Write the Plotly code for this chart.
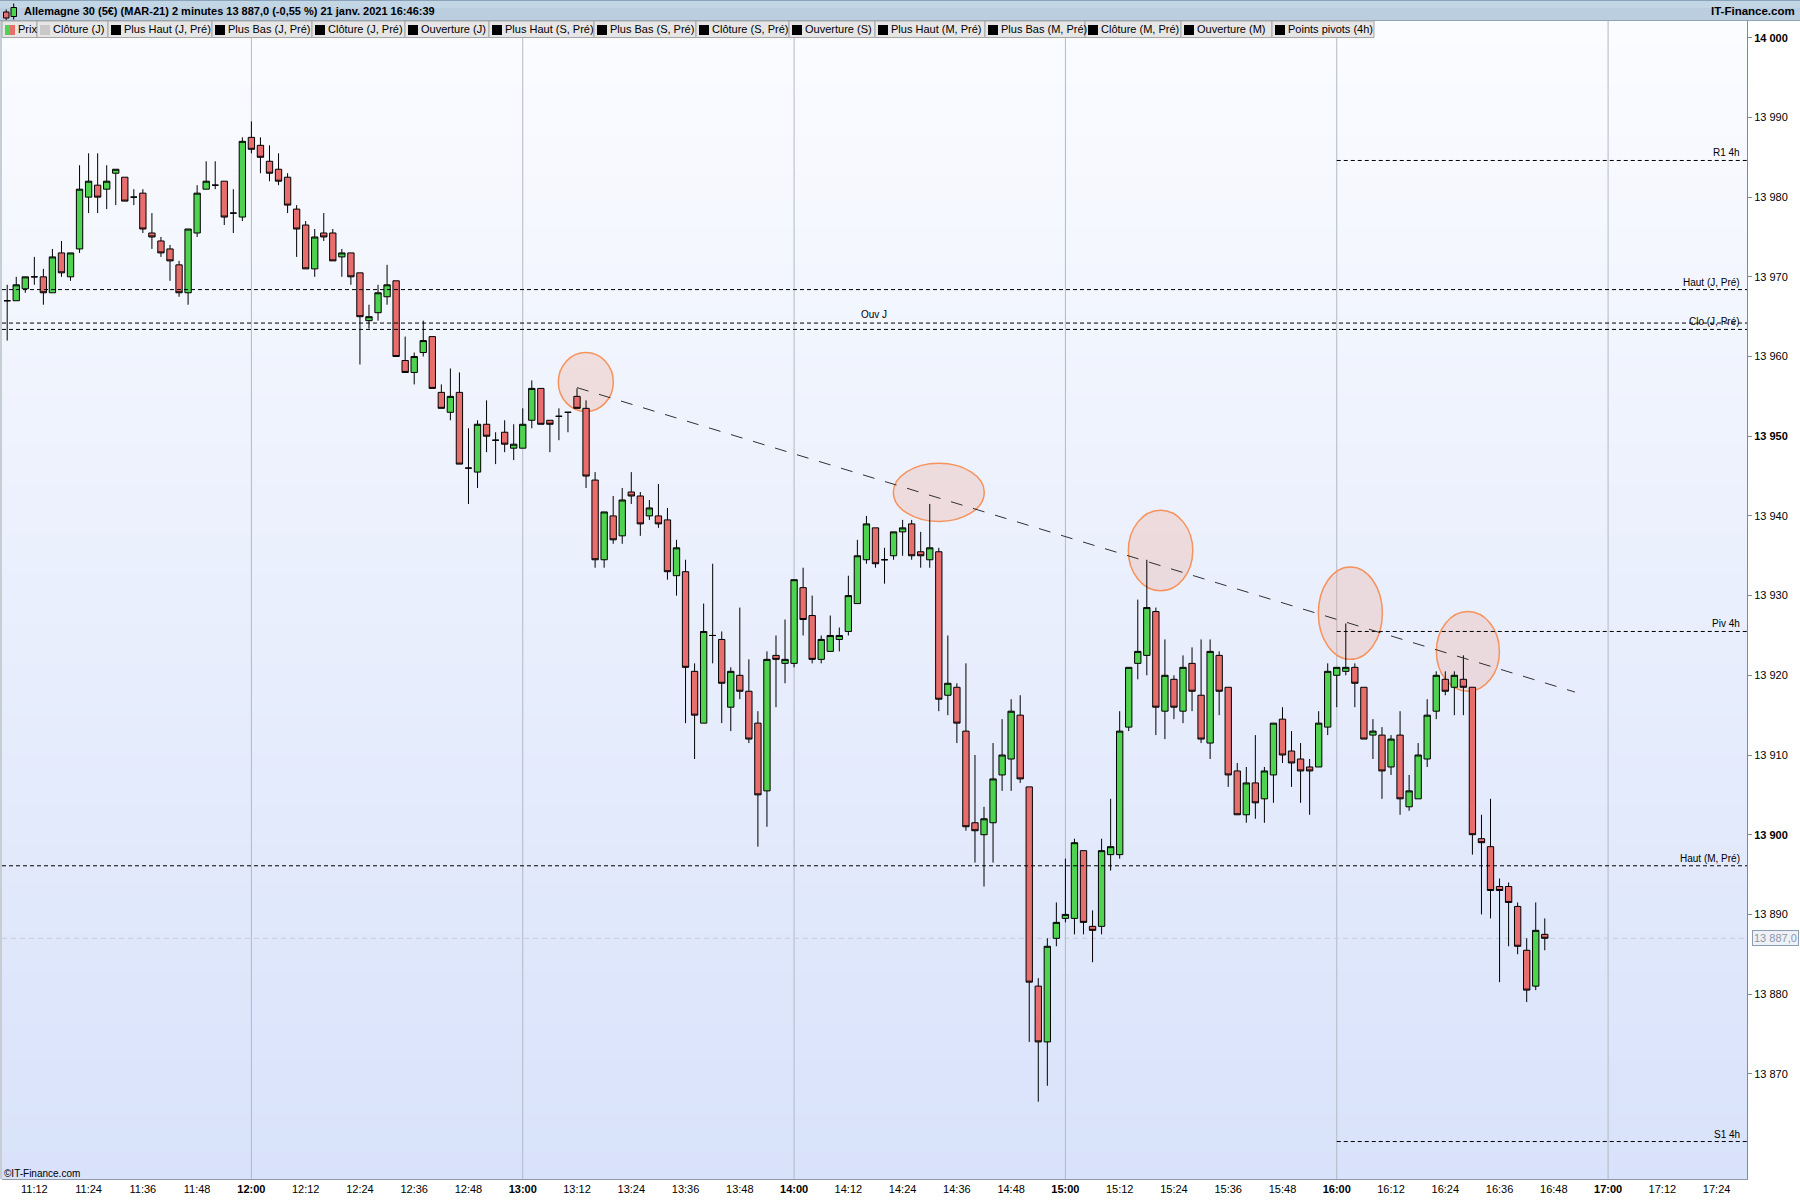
import plotly.graph_objects as go
import pandas as pd

# ---------------- data ----------------
DAY = "2021-01-21"
START = DAY + " 11:06"

opens = [13967, 13967, 13968.5, 13970, 13970, 13968, 13973, 13970, 13973.5, 13980,
         13981.5, 13981, 13983, 13982.5, 13980, 13980.5, 13975.5, 13974.5, 13973.5, 13971.5,
         13968, 13975.5, 13981, 13981.5, 13982, 13978, 13977.5, 13987.5, 13986.5, 13984.5,
         13983.5, 13982.5, 13978.5, 13976.5, 13971, 13975.5, 13975.5, 13972.5, 13973, 13970.5,
         13964.5, 13965.5, 13967.5, 13969.5, 13959.5, 13958, 13960.5, 13962.5, 13955.5, 13953,
         13955.5, 13946, 13945.5, 13951.5, 13949.5, 13950.5, 13948.5, 13948.5, 13952, 13956,
         13952, 13952.5, 13953, 13955, 13953.5, 13944.5, 13934.5, 13940, 13937.5, 13943,
         13942.5, 13940, 13940, 13939.5, 13932.5, 13933, 13920.5, 13914, 13925, 13924.5,
         13916, 13920, 13918, 13914, 13905.5, 13922.5, 13921.5, 13921.5, 13931, 13927.5,
         13922, 13923, 13924.5, 13925.5, 13929, 13934.5, 13938.5, 13934.5, 13935, 13938,
         13939, 13935.5, 13934.5, 13935.5, 13917.5, 13918.5, 13913, 13901.5, 13900, 13901.5,
         13907.5, 13909.5, 13915, 13906, 13881, 13874, 13887, 13889.5, 13889.5, 13898,
         13888.5, 13888.5, 13897.5, 13897.5, 13913.5, 13921.5, 13922.5, 13928, 13915.5, 13919.5,
         13915.5, 13921.5, 13917.5, 13911.5, 13922.5, 13918.5, 13908, 13902.5, 13906.5, 13904.5,
         13907.5, 13914.5, 13910.5, 13909.5, 13908.5, 13908.5, 13913.5, 13920, 13920.5, 13921,
         13918.5, 13912.5, 13912.5, 13908.5, 13912.5, 13903.5, 13904.5, 13909.5, 13915.5, 13919.5,
         13918.5, 13919.5, 13918.5, 13899.5, 13898.5, 13893.5, 13893.5, 13891, 13885.5, 13881,
         13887.5]
highs = [13969, 13970, 13970, 13972.5, 13971, 13973.5, 13974.5, 13973, 13984, 13985.5,
         13985.5, 13984, 13983.5, 13982.5, 13981, 13981, 13978, 13975, 13974, 13972,
         13976, 13981.5, 13984.5, 13984.5, 13982, 13981, 13987.5, 13989.5, 13987.5, 13986.5,
         13985.5, 13983, 13979, 13977, 13976, 13978, 13976, 13973.5, 13973, 13970.5,
         13966.5, 13969, 13971.5, 13969.5, 13962.5, 13960.5, 13964.5, 13962.5, 13956.5, 13958.5,
         13958, 13951, 13952, 13954.5, 13950.5, 13952, 13951.5, 13953.5, 13957, 13956,
         13952, 13953.5, 13953, 13956, 13954.5, 13945.5, 13940.5, 13942.5, 13943.5, 13945.5,
         13943, 13942, 13944, 13941, 13937, 13934.5, 13921.5, 13929, 13934, 13925.5,
         13921, 13928.5, 13922, 13915.5, 13923, 13925, 13927, 13932, 13933.5, 13930,
         13925, 13927.5, 13926, 13932.5, 13937, 13940, 13938.5, 13936, 13938, 13939.5,
         13939.5, 13938, 13941.5, 13936, 13925, 13919, 13921.5, 13910, 13903.5, 13911.5,
         13914.5, 13917, 13917.5, 13906, 13882, 13887, 13891.5, 13897, 13899.5, 13898,
         13890.5, 13899.5, 13904.5, 13915.5, 13921, 13929.5, 13934.5, 13928.5, 13924.5, 13920,
         13922.5, 13923.5, 13924.5, 13924.5, 13923, 13918.5, 13909, 13908.5, 13912.5, 13908.5,
         13914, 13916, 13913, 13911.5, 13909.5, 13915.5, 13921.5, 13921, 13926.5, 13921.5,
         13918.5, 13914.5, 13913.5, 13912.5, 13915.5, 13907.5, 13911.5, 13917, 13920.5, 13920.5,
         13920.5, 13922.5, 13918.5, 13902.5, 13904.5, 13894.5, 13894, 13891.5, 13887, 13891.5,
         13889.5]
lows = [13962, 13967, 13968, 13969, 13966.5, 13968, 13970, 13969.5, 13973, 13978,
        13978, 13978.5, 13979, 13979.5, 13979, 13975.5, 13973.5, 13972.5, 13969.5, 13967.5,
        13966.5, 13975, 13981, 13981, 13976.5, 13975.5, 13977, 13985.5, 13983, 13982,
        13981.5, 13978, 13972.5, 13971, 13970, 13974.5, 13972, 13970, 13969, 13959,
        13963.5, 13964.5, 13966.5, 13960, 13958, 13956.5, 13960, 13956, 13953.5, 13952,
        13946.5, 13941.5, 13943.5, 13948, 13946.5, 13948, 13947, 13948.5, 13951, 13951.5,
        13948, 13949.5, 13950.5, 13953.5, 13943.5, 13933.5, 13933.5, 13936.5, 13936.5, 13941.5,
        13937.5, 13939.5, 13938.5, 13932, 13930, 13914, 13909.5, 13914, 13921.5, 13914,
        13913, 13917, 13911.5, 13898.5, 13901, 13916, 13919, 13921, 13925, 13921.5,
        13921.5, 13923, 13923, 13925, 13929, 13934, 13933.5, 13931.5, 13934.5, 13935,
        13934.5, 13933.5, 13933.5, 13915.5, 13915, 13911.5, 13900.5, 13896.5, 13893.5, 13896.5,
        13905.5, 13905.5, 13906.5, 13874, 13866.5, 13868.5, 13886, 13889, 13887.5, 13887.5,
        13884, 13887.5, 13895.5, 13897, 13913, 13919.5, 13920, 13912.5, 13912, 13914.5,
        13914, 13915.5, 13911.5, 13909.5, 13915, 13906, 13902.5, 13901.5, 13902, 13901.5,
        13904, 13909, 13906, 13904, 13902.5, 13908.5, 13912.5, 13916, 13920, 13916,
        13912, 13909.5, 13904.5, 13907.5, 13902.5, 13903, 13904.5, 13908.5, 13914.5, 13917.5,
        13915, 13915, 13897.5, 13890, 13889.5, 13881.5, 13886, 13885, 13879, 13880.5,
        13885.5]
closes = [13967, 13969, 13970, 13970, 13968, 13972.5, 13970.5, 13973, 13981, 13982,
          13980, 13982, 13983.5, 13979.5, 13980, 13976, 13975, 13973, 13972, 13968,
          13976, 13980.5, 13982, 13981.5, 13977.5, 13978, 13987, 13986, 13985, 13983,
          13982, 13979, 13976, 13971, 13975, 13975, 13972, 13973, 13970, 13965,
          13965, 13968, 13969, 13960, 13958, 13960, 13962, 13956, 13953.5, 13955,
          13946.5, 13946, 13951.5, 13950, 13949.5, 13949, 13949, 13951.5, 13956, 13951.5,
          13951.5, 13952.5, 13953, 13953.5, 13945, 13934.5, 13940.5, 13937, 13942, 13942.5,
          13939, 13941, 13939, 13933, 13936, 13921, 13915, 13925.5, 13925, 13919,
          13920.5, 13918, 13912, 13905, 13922, 13922, 13922, 13932, 13927, 13922,
          13924.5, 13925, 13925, 13930, 13935, 13939, 13934, 13934.5, 13938, 13938.5,
          13935, 13935, 13936, 13917, 13919, 13914, 13901, 13900.5, 13902, 13907,
          13910, 13915.5, 13907, 13881.5, 13874, 13886, 13889, 13890, 13899, 13889,
          13888, 13898, 13898.5, 13913, 13921, 13923, 13928.5, 13916, 13920, 13916,
          13921, 13918, 13912, 13923, 13918, 13907.5, 13902.5, 13906.5, 13904, 13908,
          13914, 13910, 13909, 13908, 13908, 13914, 13920.5, 13921, 13921, 13919,
          13912, 13913, 13908, 13912, 13904.5, 13905.5, 13910, 13915, 13920, 13918,
          13920, 13918.5, 13900, 13899, 13893, 13893, 13891.5, 13886, 13880.5, 13888,
          13887]

times = pd.date_range(START, periods=len(closes), freq="2min")

# reference levels (name, value, starts at)
level_names = ["R1 4h", "Haut (J, Pré)", "Ouv J", "Clo (J, Pré)", "Piv 4h", "Haut (M, Pré)", "S1 4h"]
level_values = [13984.6, 13968.4, 13964.2, 13963.4, 13925.5, 13896.1, 13861.5]
level_from = [DAY + " 16:00", None, None, None, DAY + " 16:00", None, DAY + " 16:00"]
last_price = 13887.0

# hand-drawn trend line and highlight ellipses (time, price)
trend_start = (DAY + " 13:12:00", 13956.1)
trend_end = (DAY + " 16:52:40", 13917.9)
ellipses = [
    (DAY + " 13:07:52", DAY + " 13:20:02", 13953.1, 13960.5),
    (DAY + " 14:21:57", DAY + " 14:42:04", 13939.3, 13946.6),
    (DAY + " 15:13:55", DAY + " 15:28:10", 13930.6, 13940.7),
    (DAY + " 15:55:56", DAY + " 16:10:05", 13922.0, 13933.6),
    (DAY + " 16:22:02", DAY + " 16:35:58", 13918.0, 13928.0),
]

tick_times = pd.date_range(DAY + " 11:12", DAY + " 17:24", freq="12min")
tick_text = [("<b>%s</b>" if t.minute == 0 else "%s") % t.strftime("%H:%M") for t in tick_times]
hour_lines = pd.date_range(DAY + " 12:00", DAY + " 17:00", freq="60min")

y_ticks = list(range(13870, 14001, 10))
def fmt(v):
    s = f"{v:,}".replace(",", " ")
    return "<b>%s</b>" % s if v % 50 == 0 else s
y_text = [fmt(v) for v in y_ticks]

legend_items = ["Prix", "Clôture (J)", "Plus Haut (J, Pré)", "Plus Bas (J, Pré)", "Clôture (J, Pré)",
                "Ouverture (J)", "Plus Haut (S, Pré)", "Plus Bas (S, Pré)", "Clôture (S, Pré)",
                "Ouverture (S)", "Plus Haut (M, Pré)", "Plus Bas (M, Pré)", "Clôture (M, Pré)",
                "Ouverture (M)", "Points pivots (4h)"]

title_text = "Allemagne 30 (5€) (MAR-21) 2 minutes 13 887,0 (-0,55 %) 21 janv. 2021 16:46:39"

# ---------------- geometry ----------------
W, H = 1800, 1200
ML, MR, MT, MB = 2, 53, 21, 21
PW, PH = W - ML - MR, H - MT - MB
def px(x):
    return (x - ML) / PW
def py(y):
    return (H - MB - y) / PH

FONT = "Liberation Sans, Arial, sans-serif"

fig = go.Figure()
fig.add_trace(go.Candlestick(
    x=times, open=opens, high=highs, low=lows, close=closes,
    increasing=dict(fillcolor="#4fd24f", line=dict(color="#000000", width=1)),
    decreasing=dict(fillcolor="#e86e6e", line=dict(color="#000000", width=1)),
    whiskerwidth=0, showlegend=False, hoverinfo="skip",
))

shapes = []
# background gradient
N = 90
top_c = (251, 252, 255)
bot_c = (216, 226, 250)
for i in range(N):
    f = (i + 0.5) / N
    c = tuple(round(top_c[k] + (bot_c[k] - top_c[k]) * f) for k in range(3))
    shapes.append(dict(type="rect", xref="paper", yref="paper", x0=0, x1=1,
                       y0=1 - (i + 1) / N, y1=1 - i / N + 0.001, layer="below",
                       fillcolor="rgb(%d,%d,%d)" % c, line=dict(width=0)))
# hour grid lines
for t in hour_lines:
    shapes.append(dict(type="line", xref="x", yref="paper", x0=t, x1=t, y0=0, y1=1,
                       layer="below", line=dict(color="#b2b9c3", width=1)))
# ellipses
for (t0, t1, p0, p1) in ellipses:
    shapes.append(dict(type="circle", xref="x", yref="y", x0=t0, x1=t1, y0=p0, y1=p1,
                       layer="below", fillcolor="rgba(240,170,150,0.30)",
                       line=dict(color="#f6935c", width=1.5)))
# last price line
shapes.append(dict(type="line", xref="paper", yref="y", x0=0, x1=1, y0=last_price, y1=last_price,
                   layer="below", line=dict(color="#c9ccd2", width=1, dash="5px,4px")))
# level lines
for name, v, start in zip(level_names, level_values, level_from):
    if start is None:
        shapes.append(dict(type="line", xref="paper", yref="y", x0=0, x1=1, y0=v, y1=v,
                           line=dict(color="#000000", width=1, dash="4px,3px")))
    else:
        shapes.append(dict(type="line", xref="x", yref="y", x0=start, x1=DAY + " 18:00", y0=v, y1=v,
                           line=dict(color="#000000", width=1, dash="4px,3px")))
# trend line
shapes.append(dict(type="line", xref="x", yref="y", x0=trend_start[0], y0=trend_start[1],
                   x1=trend_end[0], y1=trend_end[1],
                   line=dict(color="#303030", width=1, dash="12px,11px")))
# left border
shapes.append(dict(type="line", xref="paper", yref="paper", x0=px(1), x1=px(1), y0=0, y1=py(21),
                   line=dict(color="#8e9ba8", width=1)))
# title bar
shapes.append(dict(type="rect", xref="paper", yref="paper", x0=px(0), x1=px(W), y0=py(21), y1=py(0),
                   fillcolor="#bacee0", line=dict(width=0)))
shapes.append(dict(type="rect", xref="paper", yref="paper", x0=px(0), x1=px(W), y0=py(8), y1=py(0),
                   fillcolor="#c3d6e6", line=dict(width=0)))
shapes.append(dict(type="line", xref="paper", yref="paper", x0=px(0), x1=px(W), y0=py(0.5), y1=py(0.5),
                   line=dict(color="#8aa3b8", width=1)))
shapes.append(dict(type="line", xref="paper", yref="paper", x0=px(0), x1=px(W), y0=py(20.5), y1=py(20.5),
                   line=dict(color="#8fa3b3", width=1)))
# title icon
shapes.append(dict(type="line", xref="paper", yref="paper", x0=px(6.2), x1=px(6.2), y0=py(20), y1=py(9.5),
                   line=dict(color="#000", width=1)))
shapes.append(dict(type="rect", xref="paper", yref="paper", x0=px(3.5), x1=px(9), y0=py(18), y1=py(12),
                   fillcolor="#e86e6e", line=dict(color="#000", width=1)))
shapes.append(dict(type="line", xref="paper", yref="paper", x0=px(13.7), x1=px(13.7), y0=py(19.5), y1=py(3.5),
                   line=dict(color="#000", width=1)))
shapes.append(dict(type="rect", xref="paper", yref="paper", x0=px(11), x1=px(16.5), y0=py(16.5), y1=py(7.5),
                   fillcolor="#4fd24f", line=dict(color="#000", width=1)))
# legend bar cells
cell_edges = [2, 37, 108, 212, 312, 405, 489, 594, 696, 789, 875, 985, 1085, 1181, 1272, 1374]
annotations = []
for i, name in enumerate(legend_items):
    a, b = cell_edges[i], cell_edges[i + 1]
    shapes.append(dict(type="rect", xref="paper", yref="paper", x0=px(a), x1=px(b), y0=py(37.5), y1=py(21),
                       fillcolor="#e6e6e6", line=dict(color="#a6a6a6", width=1)))
    sx = a + 3
    if i == 0:
        shapes.append(dict(type="rect", xref="paper", yref="paper", x0=px(sx), x1=px(sx + 5), y0=py(35), y1=py(25),
                           fillcolor="#4fd24f", line=dict(width=0)))
        shapes.append(dict(type="rect", xref="paper", yref="paper", x0=px(sx + 5), x1=px(sx + 10), y0=py(35), y1=py(25),
                           fillcolor="#e86e6e", line=dict(width=0)))
    else:
        col = "#c8c8c8" if i == 1 else "#000000"
        shapes.append(dict(type="rect", xref="paper", yref="paper", x0=px(sx), x1=px(sx + 10), y0=py(35), y1=py(25),
                           fillcolor=col, line=dict(width=0)))
    annotations.append(dict(xref="paper", yref="paper", x=px(a + 14), y=py(29.5), xanchor="left", yanchor="middle",
                            text=name, showarrow=False, font=dict(family=FONT, size=11, color="#000")))

# title text
annotations.append(dict(xref="paper", yref="paper", x=px(22), y=py(11), xanchor="left", yanchor="middle",
                        text="<b>%s</b>" % title_text, showarrow=False,
                        font=dict(family=FONT, size=11, color="#000")))
annotations.append(dict(xref="paper", yref="paper", x=px(1797), y=py(11), xanchor="right", yanchor="middle",
                        text="<b>IT-Finance.com</b>", showarrow=False,
                        font=dict(family=FONT, size=11.5, color="#000")))
# level labels
for name, v, start in zip(level_names, level_values, level_from):
    if name == "Ouv J":
        annotations.append(dict(xref="x", yref="y", x=DAY + " 14:17:36", y=v, xanchor="center", yanchor="bottom",
                                yshift=1, text=name, showarrow=False,
                                font=dict(family=FONT, size=10, color="#000")))
    else:
        annotations.append(dict(xref="paper", yref="y", x=px(1742), y=v, xanchor="right", yanchor="bottom",
                                yshift=0, text=name, showarrow=False,
                                font=dict(family=FONT, size=10, color="#000")))
# last price box
annotations.append(dict(xref="paper", yref="y", x=px(1752), y=last_price, xanchor="left", yanchor="middle",
                        text="13 887,0", showarrow=False, bgcolor="#eef2f8", bordercolor="#8c9db0",
                        borderwidth=1, borderpad=1, font=dict(family=FONT, size=11, color="#8a98a8")))
# watermark
annotations.append(dict(xref="paper", yref="paper", x=px(2), y=py(1173), xanchor="left", yanchor="middle",
                        text="©IT-Finance.com", showarrow=False,
                        font=dict(family=FONT, size=10, color="#000")))

fig.update_layout(
    width=W, height=H,
    margin=dict(l=ML, r=MR, t=MT, b=MB, pad=0),
    paper_bgcolor="#ffffff", plot_bgcolor="#f0f4fd",
    shapes=shapes, annotations=annotations,
    boxgap=0.3, boxgroupgap=0,
    showlegend=False,
    xaxis=dict(type="date", range=[DAY + " 11:04:51", DAY + " 17:30:43"],
               tickvals=list(tick_times), ticktext=tick_text, ticks="",
               showgrid=False, zeroline=False, showline=True, linecolor="#8e9aa6", linewidth=1,
               rangeslider=dict(visible=False),
               tickfont=dict(family=FONT, size=11, color="#000")),
    yaxis=dict(side="right", range=[13856.8, 14002.1], tickvals=y_ticks, ticktext=y_text,
               ticks="outside", ticklen=4, tickcolor="#7d8a97", showgrid=False, zeroline=False,
               showline=True, linecolor="#7d8a97", linewidth=1,
               tickfont=dict(family=FONT, size=11, color="#000")),
)

fig.write_html("out.html", config={"displayModeBar": False},
               post_script="document.body.style.margin='0';")
